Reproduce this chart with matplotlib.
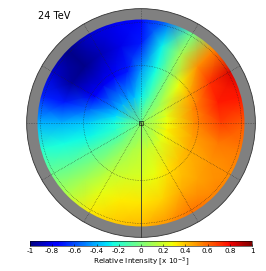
import numpy as np
import matplotlib
matplotlib.use('Agg')
import matplotlib.pyplot as plt
from matplotlib.patches import Wedge, Circle
from matplotlib.cm import ScalarMappable
from matplotlib.colors import Normalize

# azimuth counted counter-clockwise from east, radius as fraction of the map
azimuths = np.arange(0, 375, 15)
radii = np.array([0.0, 0.25, 0.5, 0.75, 1.0])

ring_0 = [0.0] * 25
ring_25 = [.28, .25, .18, .08, -.02, -.15, -.28, -.38, -.42, -.40, -.40, -.32,
           -.24, -.20, -.12, -.02, .06, .12, .15, .18, .20, .24, .28, .30, .28]
ring_50 = [.52, .52, .43, .28, .02, -.25, -.45, -.70, -.75, -.80, -.75, -.55,
           -.35, -.26, -.10, .03, .15, .20, .22, .27, .34, .40, .44, .48, .52]
ring_75 = [.68, .76, .72, .52, .10, -.28, -.70, -.82, -.90, -.98, -.95, -.70,
           -.40, -.25, -.08, .10, .25, .32, .33, .37, .46, .47, .50, .56, .68]
ring_100 = [.62, .78, .85, .55, -.05, -.55, -.75, -.80, -.85, -.98, -.85, -.68,
            -.40, -.20, -.03, .15, .33, .40, .44, .52, .60, .55, .53, .56, .62]

cbar_ticks = [-1, -0.8, -0.6, -0.4, -0.2, 0, 0.2, 0.4, 0.6, 0.8, 1]
cbar_labels = ['-1', '-0.8', '-0.6', '-0.4', '-0.2', '0', '0.2', '0.4', '0.6', '0.8', '1']

W, H = 266, 271
fig = plt.figure(figsize=(W / 100, H / 100), dpi=100)

half = 115.9
ax = fig.add_axes([(141 - half) / W, (H - 123 - half) / H, 2 * half / W, 2 * half / H])
ax.set_xlim(-1.12, 1.12)
ax.set_ylim(-1.12, 1.12)
ax.set_aspect('equal')
ax.axis('off')

rel = np.array([ring_0, ring_25, ring_50, ring_75, ring_100])
th = np.radians(azimuths)
X = np.outer(radii * 1.03, np.cos(th))
Y = np.outer(radii * 1.03, np.sin(th))
ax.pcolormesh(X, Y, rel, cmap='jet', vmin=-1, vmax=1, shading='gouraud', zorder=1)

# grey rim over the map edge
ax.add_patch(Wedge((0, 0), 1.105, 0, 360, width=0.105, fc='#808080', ec='none', zorder=2))
ax.add_patch(Circle((0, 0), 1.105, fc='none', ec='#333333', lw=0.6, zorder=4))

for a in np.arange(0, 360, 30):
    if a == 270:
        continue
    t = np.radians(a)
    ax.plot([0, 1.105 * np.cos(t)], [0, 1.105 * np.sin(t)], color='#222222', lw=0.4,
            ls=(0, (1, 2)), zorder=3)
for r in [0.555, 0.97]:
    ax.add_patch(Circle((0, 0), r, fc='none', ec='#222222', lw=0.4, ls=(0, (1, 2)), zorder=3))
ax.plot([0, 0], [0, -1.105], color='#333333', lw=0.6, zorder=3)
ax.plot([0], [0], 's', ms=2.5, mfc='none', mec='k', mew=0.4, zorder=5)

fig.text(38 / W, 1 - 16 / H, '24 TeV', fontsize=7, ha='left', va='center')

cax = fig.add_axes([30 / W, 1 - 246 / H, 222 / W, 5 / H])
cb = fig.colorbar(ScalarMappable(Normalize(-1, 1), 'jet'), cax=cax, orientation='horizontal')
cb.set_ticks(cbar_ticks)
cb.set_ticklabels(cbar_labels)
cb.ax.tick_params(labelsize=5.2, length=1.5, width=0.4, direction='in', pad=1.5)
cb.outline.set_linewidth(0.4)
fig.text(141 / W, 1 - 262 / H, r'Relative Intensity [x 10$^{-3}$]', fontsize=5.2,
         ha='center', va='center')

fig.savefig('out.png', dpi=100)
